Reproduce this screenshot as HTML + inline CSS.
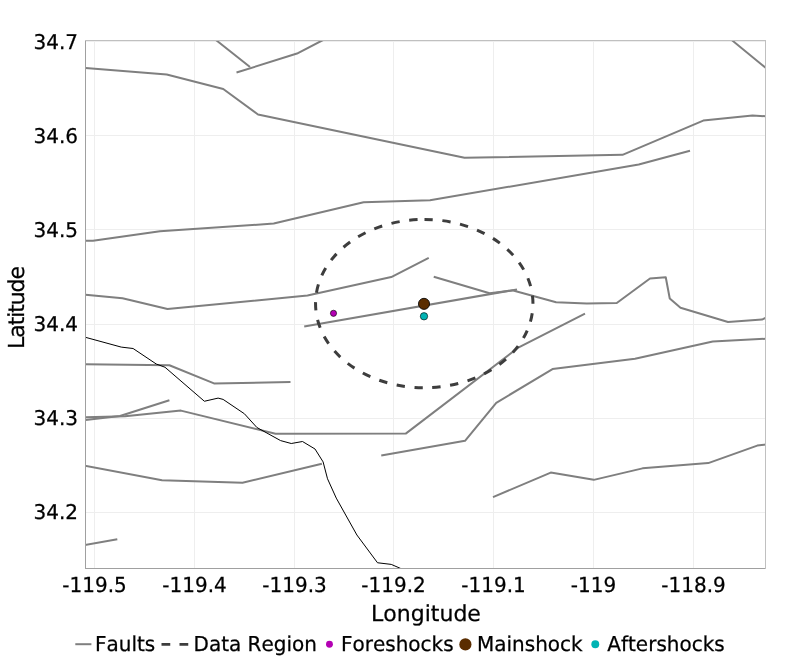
<!DOCTYPE html>
<html><head><meta charset="utf-8"><title>Faults</title>
<style>
html,body{margin:0;padding:0;background:#fff;}
body{width:800px;height:659px;overflow:hidden;}
svg{display:block;}
text{font-family:"DejaVu Sans","Liberation Sans",sans-serif;fill:#000;font-kerning:none;text-rendering:geometricPrecision;stroke:#000;stroke-width:0.25px;}
</style></head><body>
<svg width="800" height="659" viewBox="0 0 800 659">
<defs><clipPath id="pc"><rect x="85" y="40" width="681" height="529"/></clipPath></defs>
<rect width="800" height="659" fill="#fff"/>
<path d="M94.5 40V569 M194.5 40V569 M294.5 40V569 M393.5 40V569 M493.5 40V569 M593.5 40V569 M693.5 40V569 M85 41.5H766 M85 135.5H766 M85 229.5H766 M85 324.5H766 M85 418.5H766 M85 512.5H766" stroke="#eeeeee" stroke-width="1" fill="none"/>
<g clip-path="url(#pc)" fill="none" stroke-linejoin="round">
<polyline points="80,67.6 85.5,68.05 166.75,74.55 223.25,89.05 258,114.55 464.5,157.8 622.5,154.8 703.25,120.55 752.5,115.55 770,116.6" stroke="#7f7f7f" stroke-width="2"/>
<polyline points="214,38.5 216.25,40.3 250,67.05" stroke="#7f7f7f" stroke-width="2"/>
<polyline points="236.5,72.55 297,53.55 322.5,40.3 326,38.5" stroke="#7f7f7f" stroke-width="2"/>
<polyline points="729.5,38.3 732,40.3 765,67.3 768,69.8" stroke="#7f7f7f" stroke-width="2"/>
<polyline points="80,240.8 93,240.8 160,231.3 273.75,223.55 363.6,202.3 430,200.3 638.75,164.55 690,150.8" stroke="#7f7f7f" stroke-width="2"/>
<polyline points="80,294.3 85.5,294.8 122.5,298.3 167.5,309.05 307.5,295.55 391.25,277.05 428.75,257.8" stroke="#7f7f7f" stroke-width="2"/>
<polyline points="80,364.3 169.4,365.3 214,383.4 290.5,382.05" stroke="#7f7f7f" stroke-width="2"/>
<polyline points="304.2,326.4 517,289.4" stroke="#7f7f7f" stroke-width="2"/>
<polyline points="433.75,276.7 489.6,293.3 512.4,290.4 515.9,291.3 556.1,302.3 586.75,303.55 616.75,303.05 650,278.55 665.75,277.3 669.75,298.55 680.5,307.8 728,322.05 762,319.55 770,315.8" stroke="#7f7f7f" stroke-width="2"/>
<polyline points="80,420.75 85.5,420.1 120,416 169.4,400.2" stroke="#7f7f7f" stroke-width="2"/>
<polyline points="80,417.3 85.5,417.2 125,416.3 180.9,410.6 275.5,433.8 405.75,433.6 518.75,347.3 585,313.55" stroke="#7f7f7f" stroke-width="2"/>
<polyline points="80,464.8 162,480.3 242.5,482.8 321.9,463.8" stroke="#7f7f7f" stroke-width="2"/>
<polyline points="381.25,455.55 465,440.8 496.25,402.8 552.5,369.05 635,358.8 712.75,341.55 770,338.5" stroke="#7f7f7f" stroke-width="2"/>
<polyline points="493,497.1 550.75,472.6 593.75,479.85 642.5,468.35 708.25,463.1 757.25,445.6 770,444" stroke="#7f7f7f" stroke-width="2"/>
<polyline points="80,545.8 117.3,539.3" stroke="#7f7f7f" stroke-width="2"/>
<polyline points="80,335.8 85.25,337.25 121.25,347.1 133.1,348.5 156.25,364 165,367.25 204.4,401.25 218.1,398.1 223.1,399.4 244.4,413.75 256.9,427.5 280.6,440.6 291.25,443.5 302.5,441.5 315,449 323.1,461.9 327.5,478.75 336.25,498.1 356.9,535 377.5,562.75 391.25,564.4 403,569.5" stroke="#000" stroke-width="1"/>
<path d="M424.25 219.45 A108.7 84.15 0 0 1 424.25 387.75 A108.7 84.15 0 0 1 424.25 219.45" stroke="#3d3d3d" stroke-width="3" pathLength="610.15" stroke-dasharray="8.4 9.62" stroke-dashoffset="-0.25"/>
</g>
<circle cx="333.5" cy="313.3" r="3.1" fill="#b300b3" stroke="#000" stroke-width="0.6"/>
<circle cx="424" cy="303.85" r="5.55" fill="#5a2d00" stroke="#000" stroke-width="0.85"/>
<circle cx="424" cy="316.3" r="3.7" fill="#00b3b3" stroke="#000" stroke-width="0.6"/>
<rect x="85" y="40" width="1" height="529" fill="#a0a0a0"/>
<rect x="85" y="568" width="681" height="1" fill="#a0a0a0"/>
<rect x="85" y="40" width="681" height="1" fill="#c0c0c0"/>
<rect x="765" y="40" width="1" height="529" fill="#c0c0c0"/>
<text transform="translate(94.5 591.6) scale(1 1.03)" font-size="20" text-anchor="middle">-119.5</text>
<text transform="translate(194.5 591.6) scale(1 1.03)" font-size="20" text-anchor="middle">-119.4</text>
<text transform="translate(294.5 591.6) scale(1 1.03)" font-size="20" text-anchor="middle">-119.3</text>
<text transform="translate(393.5 591.6) scale(1 1.03)" font-size="20" text-anchor="middle">-119.2</text>
<text transform="translate(493.5 591.6) scale(1 1.03)" font-size="20" text-anchor="middle">-119.1</text>
<text transform="translate(593.5 591.6) scale(1 1.03)" font-size="20" text-anchor="middle">-119</text>
<text transform="translate(693.5 591.6) scale(1 1.03)" font-size="20" text-anchor="middle">-118.9</text>
<text transform="translate(78 48.7) scale(1 1.015)" font-size="20" text-anchor="end">34.7</text>
<text transform="translate(78 142.68) scale(1 1.015)" font-size="20" text-anchor="end">34.6</text>
<text transform="translate(78 236.66) scale(1 1.015)" font-size="20" text-anchor="end">34.5</text>
<text transform="translate(78 330.64) scale(1 1.015)" font-size="20" text-anchor="end">34.4</text>
<text transform="translate(78 424.62) scale(1 1.015)" font-size="20" text-anchor="end">34.3</text>
<text transform="translate(78 518.6) scale(1 1.015)" font-size="20" text-anchor="end">34.2</text>
<text x="426" y="620.7" font-size="22" text-anchor="middle">Longitude</text>
<text transform="translate(23.7 308) rotate(-90)" font-size="22" letter-spacing="-1.1" text-anchor="middle">Latitude</text>
<line x1="75.3" y1="644.2" x2="91.4" y2="644.2" stroke="#7f7f7f" stroke-width="2"/>
<line x1="161.5" y1="644.4" x2="188.25" y2="644.4" stroke="#3d3d3d" stroke-width="2.8" stroke-dasharray="8.75 9.25"/>
<circle cx="329.45" cy="644.3" r="3.45" fill="#b300b3"/>
<circle cx="465.4" cy="644.4" r="6.1" fill="#5a2d00"/>
<circle cx="595.3" cy="644.3" r="3.95" fill="#00b3b3"/>
<text transform="translate(95 650.8) scale(1 1.025)" font-size="20">Faults</text>
<text transform="translate(193.5 650.8) scale(1 1.025)" font-size="20">Data Region</text>
<text transform="translate(341 650.8) scale(1 1.025)" font-size="20">Foreshocks</text>
<text transform="translate(477 650.8) scale(1 1.025)" font-size="20">Mainshock</text>
<text transform="translate(607.3 650.8) scale(1 1.025)" font-size="20">Aftershocks</text>
</svg>
</body></html>
